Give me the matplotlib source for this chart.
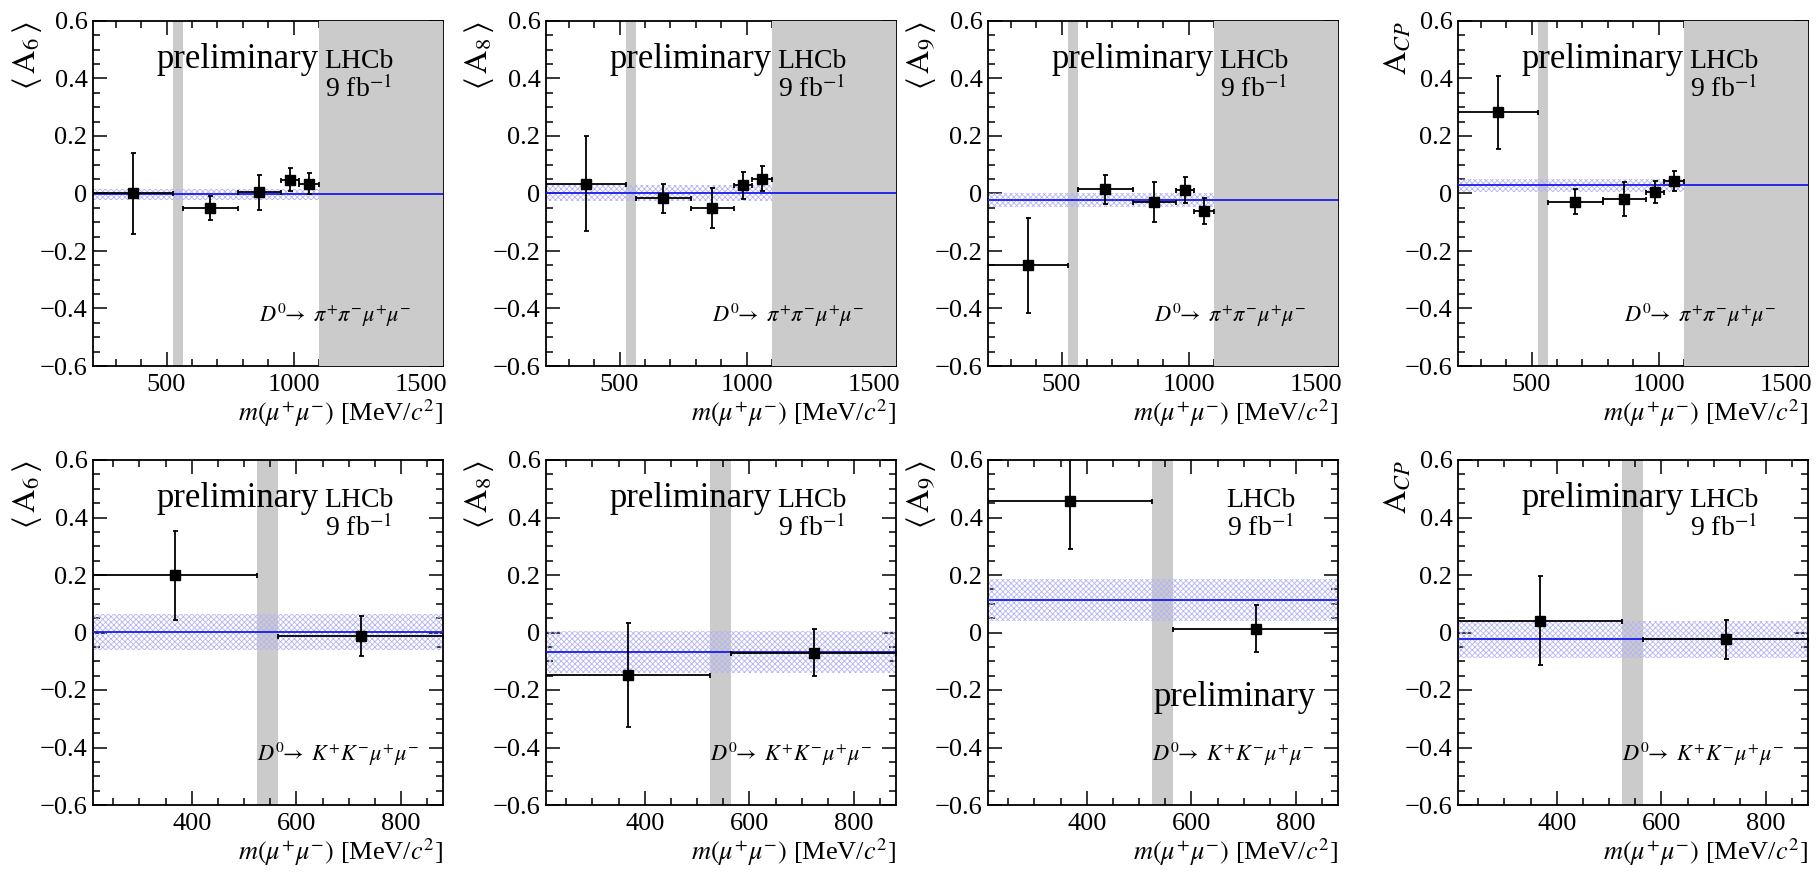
import numpy as np
import matplotlib
matplotlib.use("Agg")
import matplotlib.pyplot as plt
from matplotlib.ticker import MultipleLocator, FuncFormatter

plt.rcParams['font.family'] = ['Liberation Serif', 'DejaVu Serif']
plt.rcParams['mathtext.fontset'] = 'stix'
plt.rcParams['hatch.linewidth'] = 0.6

# bins in m(mu+mu-) [MeV/c^2]
pipi_lo = [211.3, 565, 780, 950, 1020]
pipi_hi = [525, 780, 950, 1020, 1100]
kk_lo = [211.3, 565]
kk_hi = [525, 880]

pipi_xmax = 1586
kk_xmax = 880
eta_veto = (525, 565)
pipi_high_veto = 1100

# D0 -> pi pi mu mu
A6_pipi = [0.000, -0.049, 0.005, 0.048, 0.034]
A6_pipi_err = [0.140, 0.042, 0.061, 0.040, 0.037]
A8_pipi = [0.034, -0.017, -0.050, 0.028, 0.052]
A8_pipi_err = [0.166, 0.050, 0.070, 0.046, 0.044]
A9_pipi = [-0.250, 0.015, -0.030, 0.013, -0.061]
A9_pipi_err = [0.165, 0.050, 0.070, 0.045, 0.045]
ACP_pipi = [0.282, -0.028, -0.019, 0.006, 0.043]
ACP_pipi_err = [0.128, 0.042, 0.060, 0.038, 0.036]

# D0 -> K K mu mu
A6_kk = [0.199, -0.012]
A6_kk_err = [0.155, 0.070]
A8_kk = [-0.148, -0.070]
A8_kk_err = [0.180, 0.082]
A9_kk = [0.456, 0.013]
A9_kk_err = [0.167, 0.081]
ACP_kk = [0.041, -0.024]
ACP_kk_err = [0.155, 0.069]

# integrated averages (value, error)
fit_pipi = {'A6': (-0.003, 0.018), 'A8': (0.002, 0.028),
            'A9': (-0.022, 0.025), 'ACP': (0.029, 0.023)}
fit_kk = {'A6': (0.002, 0.062), 'A8': (-0.068, 0.074),
          'A9': (0.113, 0.074), 'ACP': (-0.024, 0.063)}

ylabels = {'A6': r'$\langle\,\mathrm{A}_{6}\,\rangle$',
           'A8': r'$\langle\,\mathrm{A}_{8}\,\rangle$',
           'A9': r'$\langle\,\mathrm{A}_{9}\,\rangle$',
           'ACP': r'$\mathrm{A}_{CP}$'}

top_data = {'A6': (A6_pipi, A6_pipi_err), 'A8': (A8_pipi, A8_pipi_err),
            'A9': (A9_pipi, A9_pipi_err), 'ACP': (ACP_pipi, ACP_pipi_err)}
bot_data = {'A6': (A6_kk, A6_kk_err), 'A8': (A8_kk, A8_kk_err),
            'A9': (A9_kk, A9_kk_err), 'ACP': (ACP_kk, ACP_kk_err)}

W, H = 1818, 872
fig = plt.figure(figsize=(W / 100, H / 100), dpi=100)

lefts = [93, 546, 988, 1458]
aw, ah = 350, 345
row_bottom = [366, 805]

ylab_x = {'A6': -0.19, 'A8': -0.19, 'A9': -0.19, 'ACP': -0.17}


def fmt(v, p):
    if abs(v) < 1e-9:
        return '0'
    return ('%.1f' % v).replace('-', '\u2212')


def draw(ax, lo, hi, vals, errs, fit, xmax, key, row):
    lo = np.array(lo)
    hi = np.array(hi)
    x = (lo + hi) / 2
    xe = (hi - lo) / 2
    ax.axvspan(*eta_veto, color='#cbcbcb', lw=0, zorder=1)
    f, fe = fit
    ax.fill_between([211.3, xmax], f - fe, f + fe, facecolor='none',
                    edgecolor='#b4b4f5', hatch='xxxxxx', lw=0, zorder=2)
    if row == 0:
        ax.axvspan(pipi_high_veto, xmax, color='#cbcbcb', lw=0, zorder=3)
    ax.axhline(f, color='#1a1aee', lw=1.3, zorder=4)
    ax.errorbar(x, vals, xerr=xe, yerr=errs, fmt='s', color='black',
                ms=7, elinewidth=1.3, capsize=1.8, capthick=1.3, zorder=5)
    ax.set_xlim(211.3, xmax)
    ax.set_ylim(-0.6, 0.6)
    ax.yaxis.set_major_locator(MultipleLocator(0.2))
    ax.yaxis.set_minor_locator(MultipleLocator(0.05))
    ax.yaxis.set_major_formatter(FuncFormatter(fmt))
    if row == 0:
        ax.xaxis.set_major_locator(MultipleLocator(500))
        ax.xaxis.set_minor_locator(MultipleLocator(100))
    else:
        ax.xaxis.set_major_locator(MultipleLocator(200))
        ax.xaxis.set_minor_locator(MultipleLocator(50))
    ax.tick_params(which='both', direction='in', top=True, right=True,
                   labelsize=19, width=1.1)
    ax.tick_params(which='major', length=10)
    ax.tick_params(which='minor', length=5)
    ax.tick_params(axis='x', pad=6)
    ax.tick_params(axis='y', pad=4)
    for s in ax.spines.values():
        s.set_linewidth(1.3)
    ax.text(1.0, -0.158, r'$m(\mu^{+}\mu^{-})$ [MeV/$c^{2}$]', transform=ax.transAxes,
            ha='right', va='baseline', fontsize=19)
    ax.text(ylab_x[key], 1.0, ylabels[key], transform=ax.transAxes,
            rotation=90, ha='center', va='top', fontsize=23)
    if row == 1 and key == 'A9':
        ax.text(0.937, 0.287, 'preliminary', transform=ax.transAxes,
                ha='right', va='baseline', fontsize=25)
        lx = 0.78
    else:
        ax.text(0.645, 0.864, 'preliminary', transform=ax.transAxes,
                ha='right', va='baseline', fontsize=25)
        lx = 0.76
    ax.text(lx, 0.864, 'LHCb', transform=ax.transAxes,
            ha='center', va='baseline', fontsize=20)
    ax.text(lx, 0.78, r'9 fb$^{-1}$', transform=ax.transAxes,
            ha='center', va='baseline', fontsize=20)
    if row == 0:
        decay = r'$D^{0}\!\!\rightarrow\ \pi^{+}\pi^{-}\mu^{+}\mu^{-}$'
        dx = 0.91
    else:
        decay = r'$D^{0}\!\!\rightarrow\ K^{+}K^{-}\mu^{+}\mu^{-}$'
        dx = 0.93
    ax.text(dx, 0.128, decay, transform=ax.transAxes,
            ha='right', va='baseline', fontsize=16)


keys = ['A6', 'A8', 'A9', 'ACP']
for row in range(2):
    for i, key in enumerate(keys):
        ax = fig.add_axes([lefts[i] / W, 1 - row_bottom[row] / H, aw / W, ah / H])
        if row == 0:
            v, e = top_data[key]
            draw(ax, pipi_lo, pipi_hi, v, e, fit_pipi[key], pipi_xmax, key, row)
        else:
            v, e = bot_data[key]
            draw(ax, kk_lo, kk_hi, v, e, fit_kk[key], kk_xmax, key, row)

fig.savefig('out.png', dpi=100)
